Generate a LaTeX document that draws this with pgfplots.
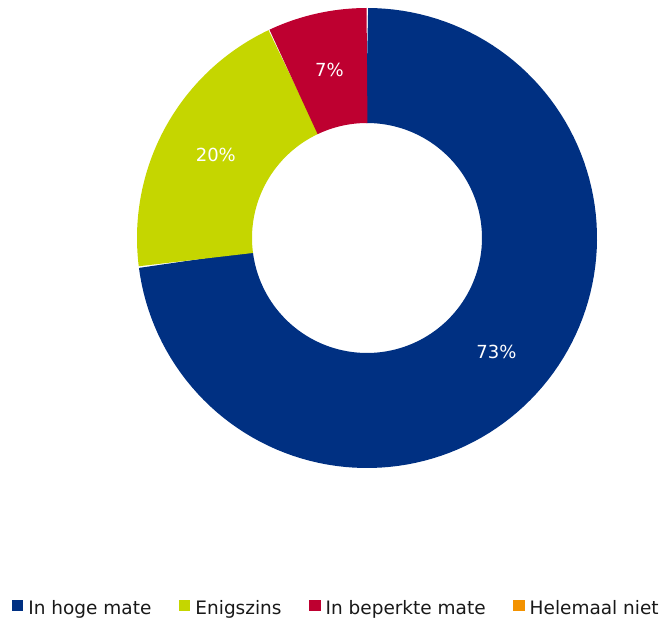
\documentclass[border=0pt]{standalone}
\usepackage{fontspec}
\setmainfont{DejaVu Sans}
\usepackage{pgfplots}
\pgfplotsset{compat=1.18}

\definecolor{hoog}{HTML}{003082}
\definecolor{enigs}{HTML}{C5D600}
\definecolor{beperkt}{HTML}{BE0030}
\definecolor{niet}{HTML}{F39200}

% shares in percent
\def\vA{73}
\def\vB{20}
\def\vC{7}
\def\vD{0}

\begin{document}
\begin{tikzpicture}
\pgfmathsetmacro\aA{90}
\pgfmathsetmacro\aB{\aA-3.6*\vA}
\pgfmathsetmacro\aC{\aB-3.6*\vB}
\pgfmathsetmacro\aD{\aC-3.6*\vC}
\begin{axis}[
    scale only axis,
    width=662pt, height=621pt,
    xmin=-1.595652, xmax=1.282609,
    ymin=-1.665217, ymax=1.034783,
    hide axis, clip=false,
    legend columns=4,
    legend style={draw=none, fill=none, at={(0.508,0.021)}, anchor=center,
        font=\fontsize{18.5}{20}\selectfont, text=black!90,
        inner sep=0pt,
        /tikz/every even column/.append style={column sep=25.5pt},
        /tikz/every odd column/.append style={column sep=3pt}},
    legend cell align=left,
    legend image code/.code={\fill[#1, draw=none] (0pt,-3.5pt) rectangle (11.5pt,7.5pt);},
    ]
% ring segments (radius 0.75, thickness 0.5 = 115pt)
\addplot[forget plot, draw=hoog, line width=115pt, domain=\aB:\aA, samples=120] ({0.75*cos(x)},{0.75*sin(x)});
\addplot[forget plot, draw=enigs, line width=115pt, domain=\aC:\aB, samples=60] ({0.75*cos(x)},{0.75*sin(x)});
\addplot[forget plot, draw=beperkt, line width=115pt, domain=\aD:\aC, samples=30] ({0.75*cos(x)},{0.75*sin(x)});

\addlegendimage{fill=hoog}\addlegendentry{In hoge mate}
\addlegendimage{fill=enigs}\addlegendentry{Enigszins}
\addlegendimage{fill=beperkt}\addlegendentry{In beperkte mate}
\addlegendimage{fill=niet}\addlegendentry{Helemaal niet}

\pgfmathsetmacro\mA{(\aA+\aB)/2}
\pgfmathsetmacro\mB{(\aB+\aC)/2}
\pgfmathsetmacro\mC{(\aC+\aD)/2}
\node[text=white, font=\fontsize{18}{20}\selectfont] at (axis cs:{0.75*cos(\mA)},{0.75*sin(\mA)}) {\vA\%};
\node[text=white, font=\fontsize{18}{20}\selectfont] at (axis cs:{0.75*cos(\mB)},{0.75*sin(\mB)}) {\vB\%};
\node[text=white, font=\fontsize{18}{20}\selectfont] at (axis cs:{0.75*cos(\mC)},{0.75*sin(\mC)}) {\vC\%};
\end{axis}
\pgfresetboundingbox
\path[use as bounding box] (current axis.south west) rectangle (current axis.north east);
\end{tikzpicture}
\end{document}
